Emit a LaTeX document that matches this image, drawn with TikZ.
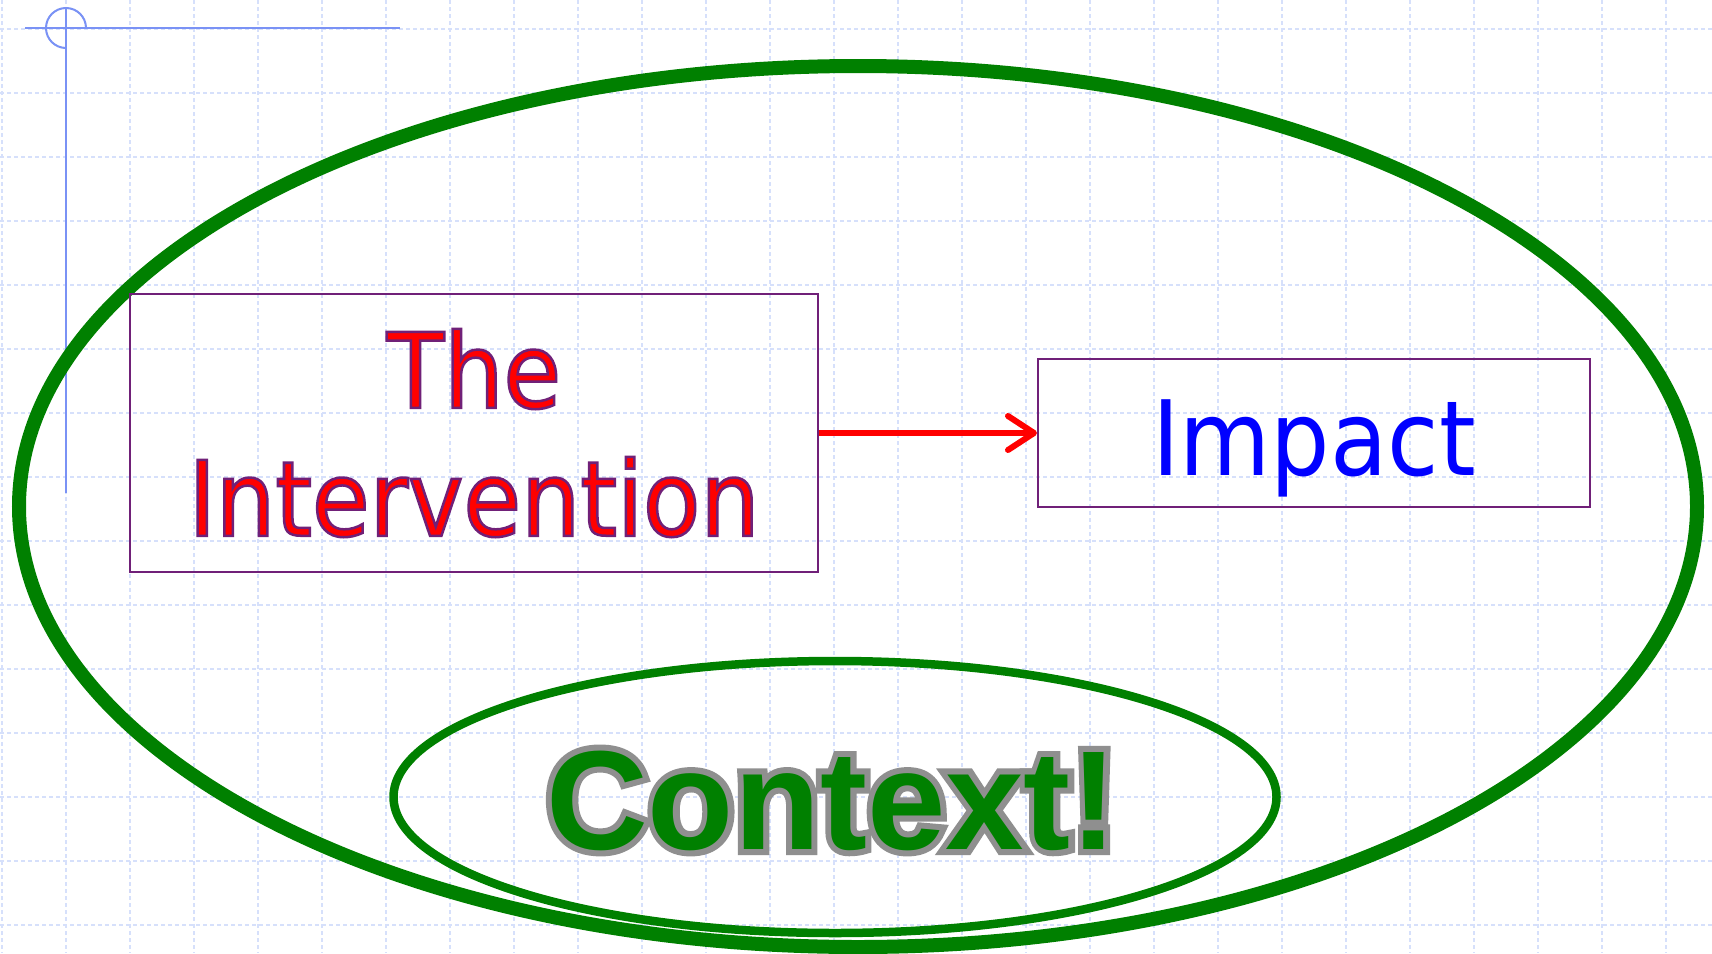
\documentclass[tikz,border=0pt]{standalone}
\usepackage{fontspec}
\usetikzlibrary{arrows.meta, positioning}

\newfontfamily\boxfont[FakeStretch=0.9]{DejaVu Sans}
\newfontfamily\ctxfont{Liberation Sans}

\definecolor{gridblue}{RGB}{214,224,251}
\definecolor{cornerblue}{RGB}{122,146,245}
\definecolor{boxpurple}{RGB}{112,32,120}
\definecolor{ctxgreen}{RGB}{0,128,0}

% outlined text: [render mode]{stroke colour r g b}{stroke width}{text}
\newcommand\rimtext[4][2]{\special{pdf:literal direct #2 RG #3 w #1 Tr}#4\special{pdf:literal direct 0 Tr}}

\begin{document}
\begin{tikzpicture}[x=1pt, y=-1pt,
    gridline/.style={gridblue, line width=1.2pt, dash pattern=on 4pt off 3pt},
    corner/.style={cornerblue, line width=2pt},
    card/.style={draw=boxpurple, line width=2pt, inner sep=0pt, align=center,
                 font=\boxfont\fontsize{104}{128}\selectfont},
    flow/.style={red, line width=6pt, -{Straight Barb[length=26pt, width=34pt, round]}},
    ring/.style={ctxgreen}]
				% Page size
				\useasboundingbox (0,0) rectangle (1712,953);
				\fill[white] (0,0) rectangle (1712,953);
				
				% Background grid
				\foreach \gx in {0,...,26}
				  \draw[gridline] ({2+64*\gx},0) -- ({2+64*\gx},953);
				\foreach \gy in {0,...,14}
				  \draw[gridline] (0,{29+64*\gy}) -- (1712,{29+64*\gy});
				
				% Corner mark
				\draw[corner] (25,28) -- (400,28);
				\draw[corner] (66,7) -- (66,493);
				\draw[corner] (86,28) arc[start angle=0, end angle=270, radius=20pt];
				
				% Outer and inner context rings
				\draw[ring, line width=14pt] (858,506.5) ellipse [x radius=839pt, y radius=440.5pt];
				\draw[ring, line width=8.5pt] (835,797) ellipse [x radius=441.5pt, y radius=136pt];
				
				% Boxes
				\node[card, text=red, minimum width=688pt, minimum height=278pt] (interv) at (474,433)
				  {\rimtext{0.44 0.125 0.47}{2.5}{The}\\\rimtext{0.44 0.125 0.47}{2.5}{Intervention}};
				\node[card, text=blue, minimum width=552pt, minimum height=148pt,
				      text height=84pt, text depth=0pt] (impact) at (1314,433) {Impact};
				
				% Arrow
				\draw[flow] (interv.east) -- (impact.west);
				
				% Context label (grey rim under the green letters)
				\node[anchor=base, inner sep=0pt, text=ctxgreen,
				      font=\ctxfont\bfseries\fontsize{141}{160}\selectfont] (context) at (832,849)
				  {\rlap{\rimtext[1]{0.56 0.56 0.56}{12}{Context!}}Context!};
\end{tikzpicture}
\end{document}
